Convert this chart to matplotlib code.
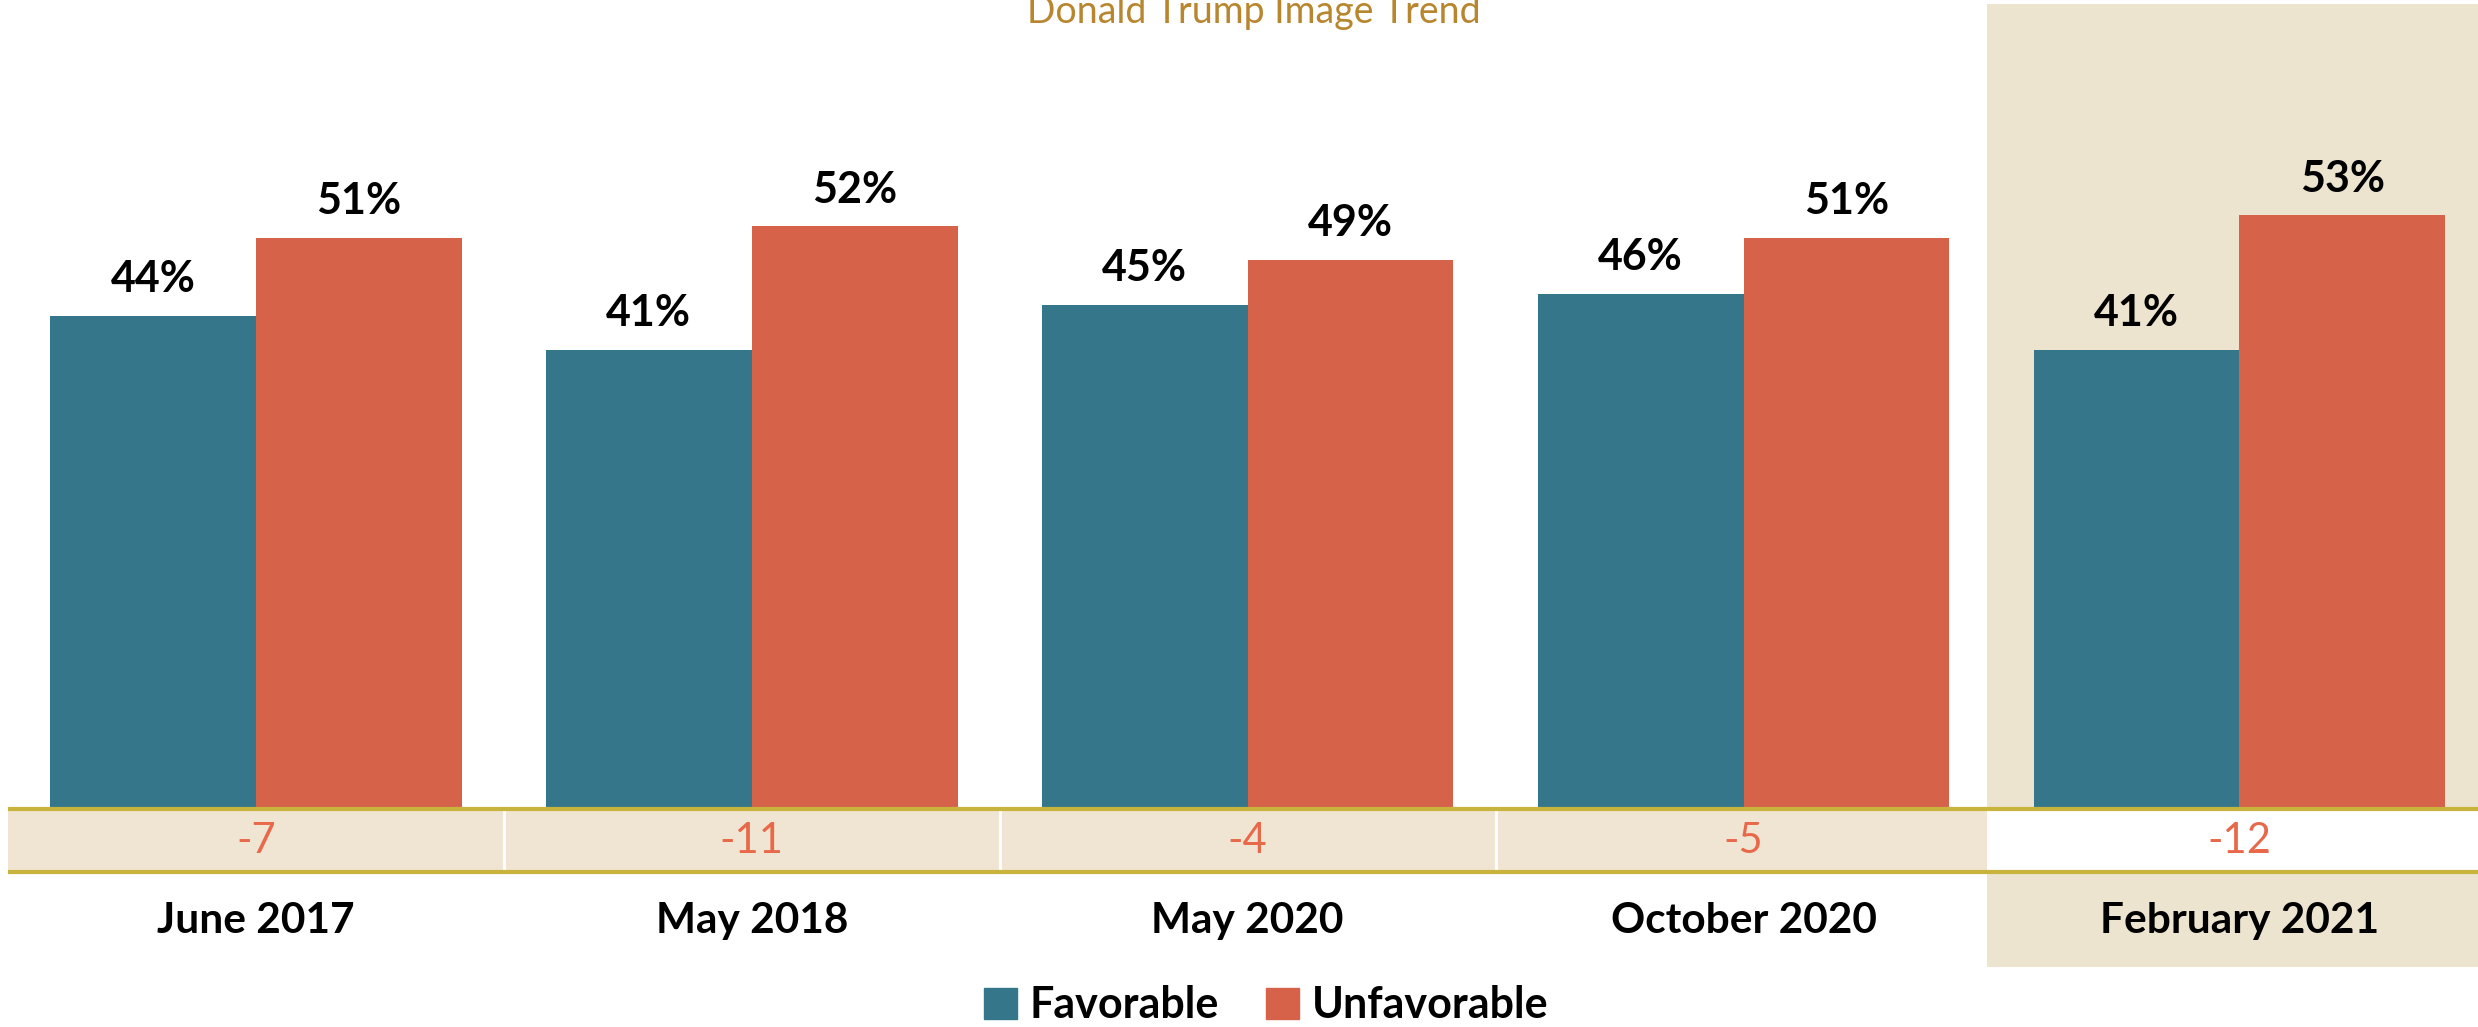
import matplotlib
matplotlib.use("Agg")
import matplotlib.pyplot as plt
from matplotlib.patches import Rectangle, Patch
import numpy as np

# data
categories = ["June 2017", "May 2018", "May 2020", "October 2020", "February 2021"]
favorable = [44, 41, 45, 46, 41]
unfavorable = [51, 52, 49, 51, 53]
net = [f - u for f, u in zip(favorable, unfavorable)]

# colours
teal = "#36768A"
red = "#D6624A"
beige = "#EDE4D0"
beige_row = "#F0E5D2"
gold = "#C8B43C"
title_col = "#B8862F"
net_col = "#E8694A"

plt.rcParams['font.family'] = ['Lato', 'DejaVu Sans']

fig = plt.figure(figsize=(24.78, 10.27), dpi=100)
ax = fig.add_axes([0, 0, 1, 1])
ax.set_xlim(-0.516, 4.481)
ax.set_ylim(-19.46, 72.2)
ax.axis("off")

x = np.arange(len(categories))
w = 0.415
row_h = 5.64

# highlighted last column
ax.add_patch(Rectangle((3.49, -14.1), 2, 85.9, color=beige, zorder=0, lw=0))

# net difference row
ax.add_patch(Rectangle((-0.5, -row_h), 3.99, row_h, color=beige_row, zorder=1, lw=0))
ax.add_patch(Rectangle((3.49, -row_h), 2, row_h, color="white", zorder=1, lw=0))
for s in [0.5, 1.5, 2.5]:
    ax.plot([s, s], [-row_h, 0], color="white", lw=2, zorder=2)
ax.plot([-0.5, 5], [0, 0], color=gold, lw=3, zorder=3, solid_capstyle="butt")
ax.plot([-0.5, 5], [-row_h, -row_h], color=gold, lw=3, zorder=3, solid_capstyle="butt")

b1 = ax.bar(x - w / 2, favorable, w, color=teal, zorder=2, label="Favorable")
b2 = ax.bar(x + w / 2, unfavorable, w, color=red, zorder=2, label="Unfavorable")

for i in range(len(categories)):
    ax.text(x[i] - w / 2, favorable[i] + 2.1, f"{favorable[i]}%", ha="center",
            va="baseline", fontsize=31, fontweight="bold", color="black")
    ax.text(x[i] + w / 2, unfavorable[i] + 2.1, f"{unfavorable[i]}%", ha="center",
            va="baseline", fontsize=31, fontweight="bold", color="black")
    ax.text(x[i], -2.9, f"{net[i]}", ha="center", va="center",
            fontsize=30, fontweight="normal", color=net_col, zorder=4)
    ax.text(x[i], -10.0, categories[i], ha="center", va="center",
            fontsize=30.5, fontweight="bold", color="black")

fig.text(0.506, 0.9776, "Donald Trump Image Trend", ha="center", va="baseline",
         fontsize=27, color=title_col)

handles = [Patch(color=teal), Patch(color=red)]
ax.legend(handles, ["Favorable", "Unfavorable"], loc="center",
          bbox_to_anchor=(0.511, 0.021), bbox_transform=fig.transFigure,
          ncol=2, frameon=False, prop={"size": 31, "weight": "bold"},
          handlelength=0.75, handleheight=0.75, handletextpad=0.3,
          columnspacing=1.1)

fig.savefig("out.png", dpi=100)
